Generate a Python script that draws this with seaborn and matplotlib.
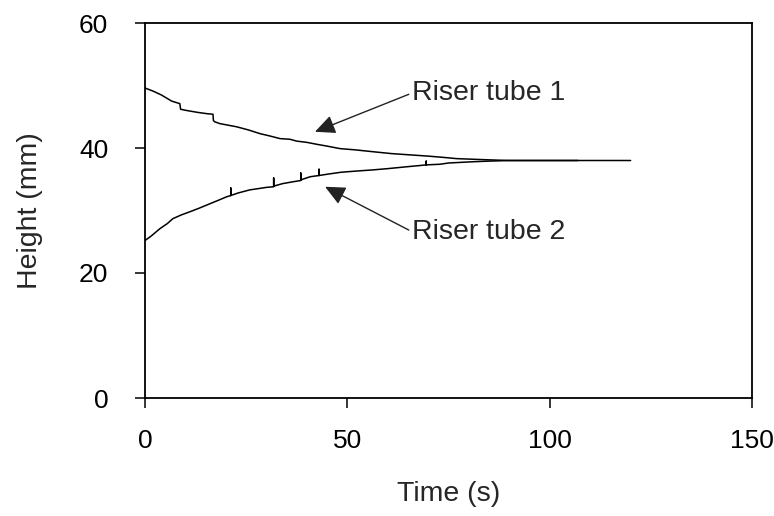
import numpy as np
import pandas as pd
import matplotlib
matplotlib.use("Agg")
import matplotlib.pyplot as plt
import seaborn as sns

# data
t_tube1 = [0, 2, 4, 6.6, 8.6, 8.8, 10.3, 13, 15.2, 16.8, 16.9, 17.2, 18.5, 22.6, 25.5, 28.4,
           31, 33.4, 35.8, 37.5, 40, 42.4, 45, 48.2, 52, 56.4, 61, 65.5, 70,
           73.7, 77, 81.1, 85.2, 90, 100, 110, 120]
h_tube1 = [49.6, 49.1, 48.5, 47.5, 47.1, 46.2, 46.0, 45.7, 45.5, 45.4, 44.4, 44.2, 43.9, 43.4, 42.9, 42.3,
           41.9, 41.5, 41.4, 41.1, 40.9, 40.6, 40.3, 39.9, 39.7, 39.4, 39.1, 38.9, 38.7,
           38.5, 38.3, 38.2, 38.1, 38.0, 38.0, 38.0, 38.0]

t_tube2 = [0, 1.5, 3.7, 5.5, 6.9, 9, 11.1, 13.5, 16.1, 18, 20.2, 21.2, 21.2, 21.2, 23, 25.9,
           28, 30, 31.8, 31.8, 31.8, 34, 36.6, 38.5, 38.5, 38.5, 40.8, 43, 43, 43, 45,
           48.2, 50, 52, 56.4, 60, 64.7, 68, 69.5, 69.5, 69.5, 72.9, 75, 78, 81, 85,
           90, 95, 100, 107]
h_tube2 = [25.2, 25.9, 27.1, 27.9, 28.7, 29.3, 29.8, 30.4, 31.1, 31.6, 32.2, 32.4, 33.6, 32.4, 32.8, 33.3,
           33.5, 33.7, 33.8, 35.2, 33.9, 34.3, 34.6, 34.8, 36.0, 34.9, 35.4, 35.6, 36.6, 35.6, 35.8,
           36.1, 36.2, 36.3, 36.5, 36.7, 37.0, 37.2, 37.3, 37.9, 37.3, 37.4, 37.6, 37.7, 37.8, 37.9,
           38.0, 38.0, 38.0, 38.0]

x_ticks = [0, 50, 100, 150]
y_ticks = [0, 20, 40, 60]

sns.set_style("ticks")
plt.rcParams['font.family'] = ['Liberation Sans', 'DejaVu Sans']

fig = plt.figure(figsize=(7.74, 5.16), dpi=100)
ax = fig.add_axes([145 / 774, 1 - 398 / 516, (752 - 145) / 774, (398 - 23) / 516])

sns.lineplot(x=t_tube1, y=h_tube1, ax=ax, color='black', linewidth=1.1,
             sort=False, estimator=None)
sns.lineplot(x=t_tube2, y=h_tube2, ax=ax, color='black', linewidth=1.1,
             sort=False, estimator=None)

ax.set_xlim(0, 150)
ax.set_ylim(0, 60)
ax.set_xticks(x_ticks)
ax.set_yticks(y_ticks)
ax.tick_params(axis='both', direction='out', length=7.5, width=1.1,
               labelsize=19, colors='black')
ax.tick_params(axis='y', pad=19)
ax.tick_params(axis='x', pad=15)
for side in ['left', 'bottom', 'top', 'right']:
    ax.spines[side].set_visible(True)
    ax.spines[side].set_linewidth(1.3)
    ax.spines[side].set_color('black')

ax.set_xlabel('Time (s)', fontsize=20.5, labelpad=20)
ax.set_ylabel('Height (mm)', fontsize=20.5, labelpad=26)

arrow = dict(arrowstyle='-|>,head_length=0.6,head_width=0.28', color='#222222',
             lw=1.0, shrinkA=0, shrinkB=0, relpos=(0, 0.5))
ax.annotate('Riser tube 1', xy=(42, 42.6), xytext=(66, 48.8), fontsize=20.5,
            ha='left', va='center', arrowprops=arrow)
ax.annotate('Riser tube 2', xy=(44.5, 33.8), xytext=(66, 26.6), fontsize=20.5,
            ha='left', va='center', arrowprops=arrow)

fig.savefig('out.png', dpi=100)
